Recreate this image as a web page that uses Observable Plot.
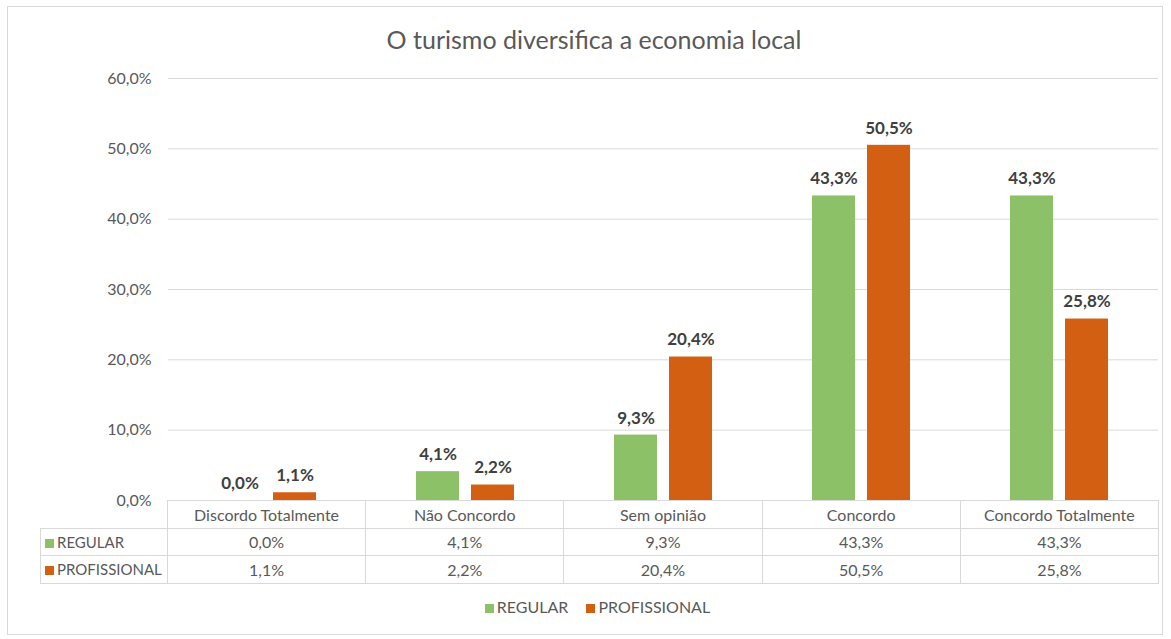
<!DOCTYPE html>
<html>
<head>
<meta charset="utf-8">
<script src="https://cdn.jsdelivr.net/npm/d3@7"></script>
<script src="https://cdn.jsdelivr.net/npm/@observablehq/plot@0.6"></script>
<style>
  html, body { margin: 0; padding: 0; background: #fff; }
  #wrap { position: relative; width: 1171px; height: 639px; font-family: Lato, "Open Sans", sans-serif; color: #595959; }
  #frame { position: absolute; left: 7px; top: 6px; width: 1156px; height: 629px; border: 1px solid #d9d9d9; box-sizing: border-box; }
  #title { position: absolute; left: 0; width: 1188px; top: 24px; text-align: center; font-size: 25px; color: #595959; }
  #chart { position: absolute; left: 0; top: 0; }
  table.dt { position: absolute; left: 40px; top: 500px; border-collapse: collapse; table-layout: fixed; width: 1119px; font-size: 16px; color: #595959; }
  table.dt td { border: 1px solid #d9d9d9; text-align: center; padding: 0; height: 27.5px; box-sizing: border-box; white-space: nowrap; overflow: visible; }
  table.dt td.lab { text-align: left; padding-left: 4px; font-size: 15px; }
  table.dt td.blank { border: none; border-right: 1px solid #d9d9d9; }
  .key { display: inline-block; width: 9px; height: 9px; margin-right: 3px; vertical-align: 0px; }
  #legend { position: absolute; top: 597px; left: 0; width: 1195px; text-align: center; font-size: 16px; color: #595959; white-space: nowrap; }
  #legend span.item { margin: 0 9px; }
</style>
</head>
<body>
<div id="wrap">
  <div id="frame"></div>
  <div id="chart"></div>
  <div id="title"></div>
</div>
<script>
const title = "O turismo diversifica a economia local";
const categories = ["Discordo Totalmente", "Não Concordo", "Sem opinião", "Concordo", "Concordo Totalmente"];
const series = ["REGULAR", "PROFISSIONAL"];
const regular = [0.0, 4.1, 9.3, 43.3, 43.3];
const profissional = [1.1, 2.2, 20.4, 50.5, 25.8];
const colors = ["#8cc168", "#d35f12"];
const yTicks = [0, 10, 20, 30, 40, 50, 60];

const fmt = v => v.toFixed(1).replace(".", ",") + "%";
const data = [];
categories.forEach((c, i) => {
  data.push({cat: c, serie: series[0], value: regular[i]});
  data.push({cat: c, serie: series[1], value: profissional[i]});
});

const chart = Plot.plot({
  width: 1171,
  height: 639,
  marginTop: 78,
  marginBottom: 139,
  marginLeft: 167,
  marginRight: 13,
  style: {fontFamily: "Lato, 'Open Sans', sans-serif", fontSize: "16px", color: "#595959", background: "transparent"},
  fx: {domain: categories, padding: 0, axis: null},
  x: {domain: series, paddingInner: 0.214, paddingOuter: 0.875, axis: null},
  y: {domain: [0, 60], ticks: yTicks, tickFormat: fmt, tickSize: 0, tickPadding: 17, label: null},
  color: {domain: series, range: colors},
  marks: [
    Plot.gridY(yTicks.filter(d => d > 0), {stroke: "#d9d9d9", strokeOpacity: 1, strokeWidth: 1}),
    Plot.axisY({ticks: yTicks, tickFormat: fmt, tickSize: 0, tickPadding: 17, label: null, fill: "#595959", fontSize: 16}),
    Plot.barY(data, {fx: "cat", x: "serie", y: "value", fill: "serie"}),
    Plot.text(data, {fx: "cat", x: "serie", y: "value", text: d => fmt(d.value), dy: -17, fontWeight: "bold", fontSize: 17, fill: "#404040"})
  ]
});
document.getElementById("chart").appendChild(chart);
document.getElementById("title").textContent = title;

// data table
const wrap = document.getElementById("wrap");
const table = document.createElement("table");
table.className = "dt";
const colW = (1158 - 167) / categories.length;
const colgroup = document.createElement("colgroup");
[127, ...categories.map(() => colW)].forEach(w => { const c = document.createElement("col"); c.style.width = w + "px"; colgroup.appendChild(c); });
table.appendChild(colgroup);
let tr = document.createElement("tr");
let td = document.createElement("td");
td.className = "blank";
tr.appendChild(td);
categories.forEach(c => { const t = document.createElement("td"); t.textContent = c; tr.appendChild(t); });
table.appendChild(tr);
[[series[0], regular, colors[0]], [series[1], profissional, colors[1]]].forEach(([name, vals, col]) => {
  const r = document.createElement("tr");
  const l = document.createElement("td");
  l.className = "lab";
  l.innerHTML = `<span class="key" style="background:${col}"></span>${name}`;
  r.appendChild(l);
  vals.forEach(v => { const t = document.createElement("td"); t.textContent = fmt(v); r.appendChild(t); });
  table.appendChild(r);
});
wrap.appendChild(table);

// legend
const legend = document.createElement("div");
legend.id = "legend";
legend.innerHTML = series.map((s, i) => `<span class="item"><span class="key" style="background:${colors[i]}"></span>${s}</span>`).join("");
wrap.appendChild(legend);
</script>
</body>
</html>
